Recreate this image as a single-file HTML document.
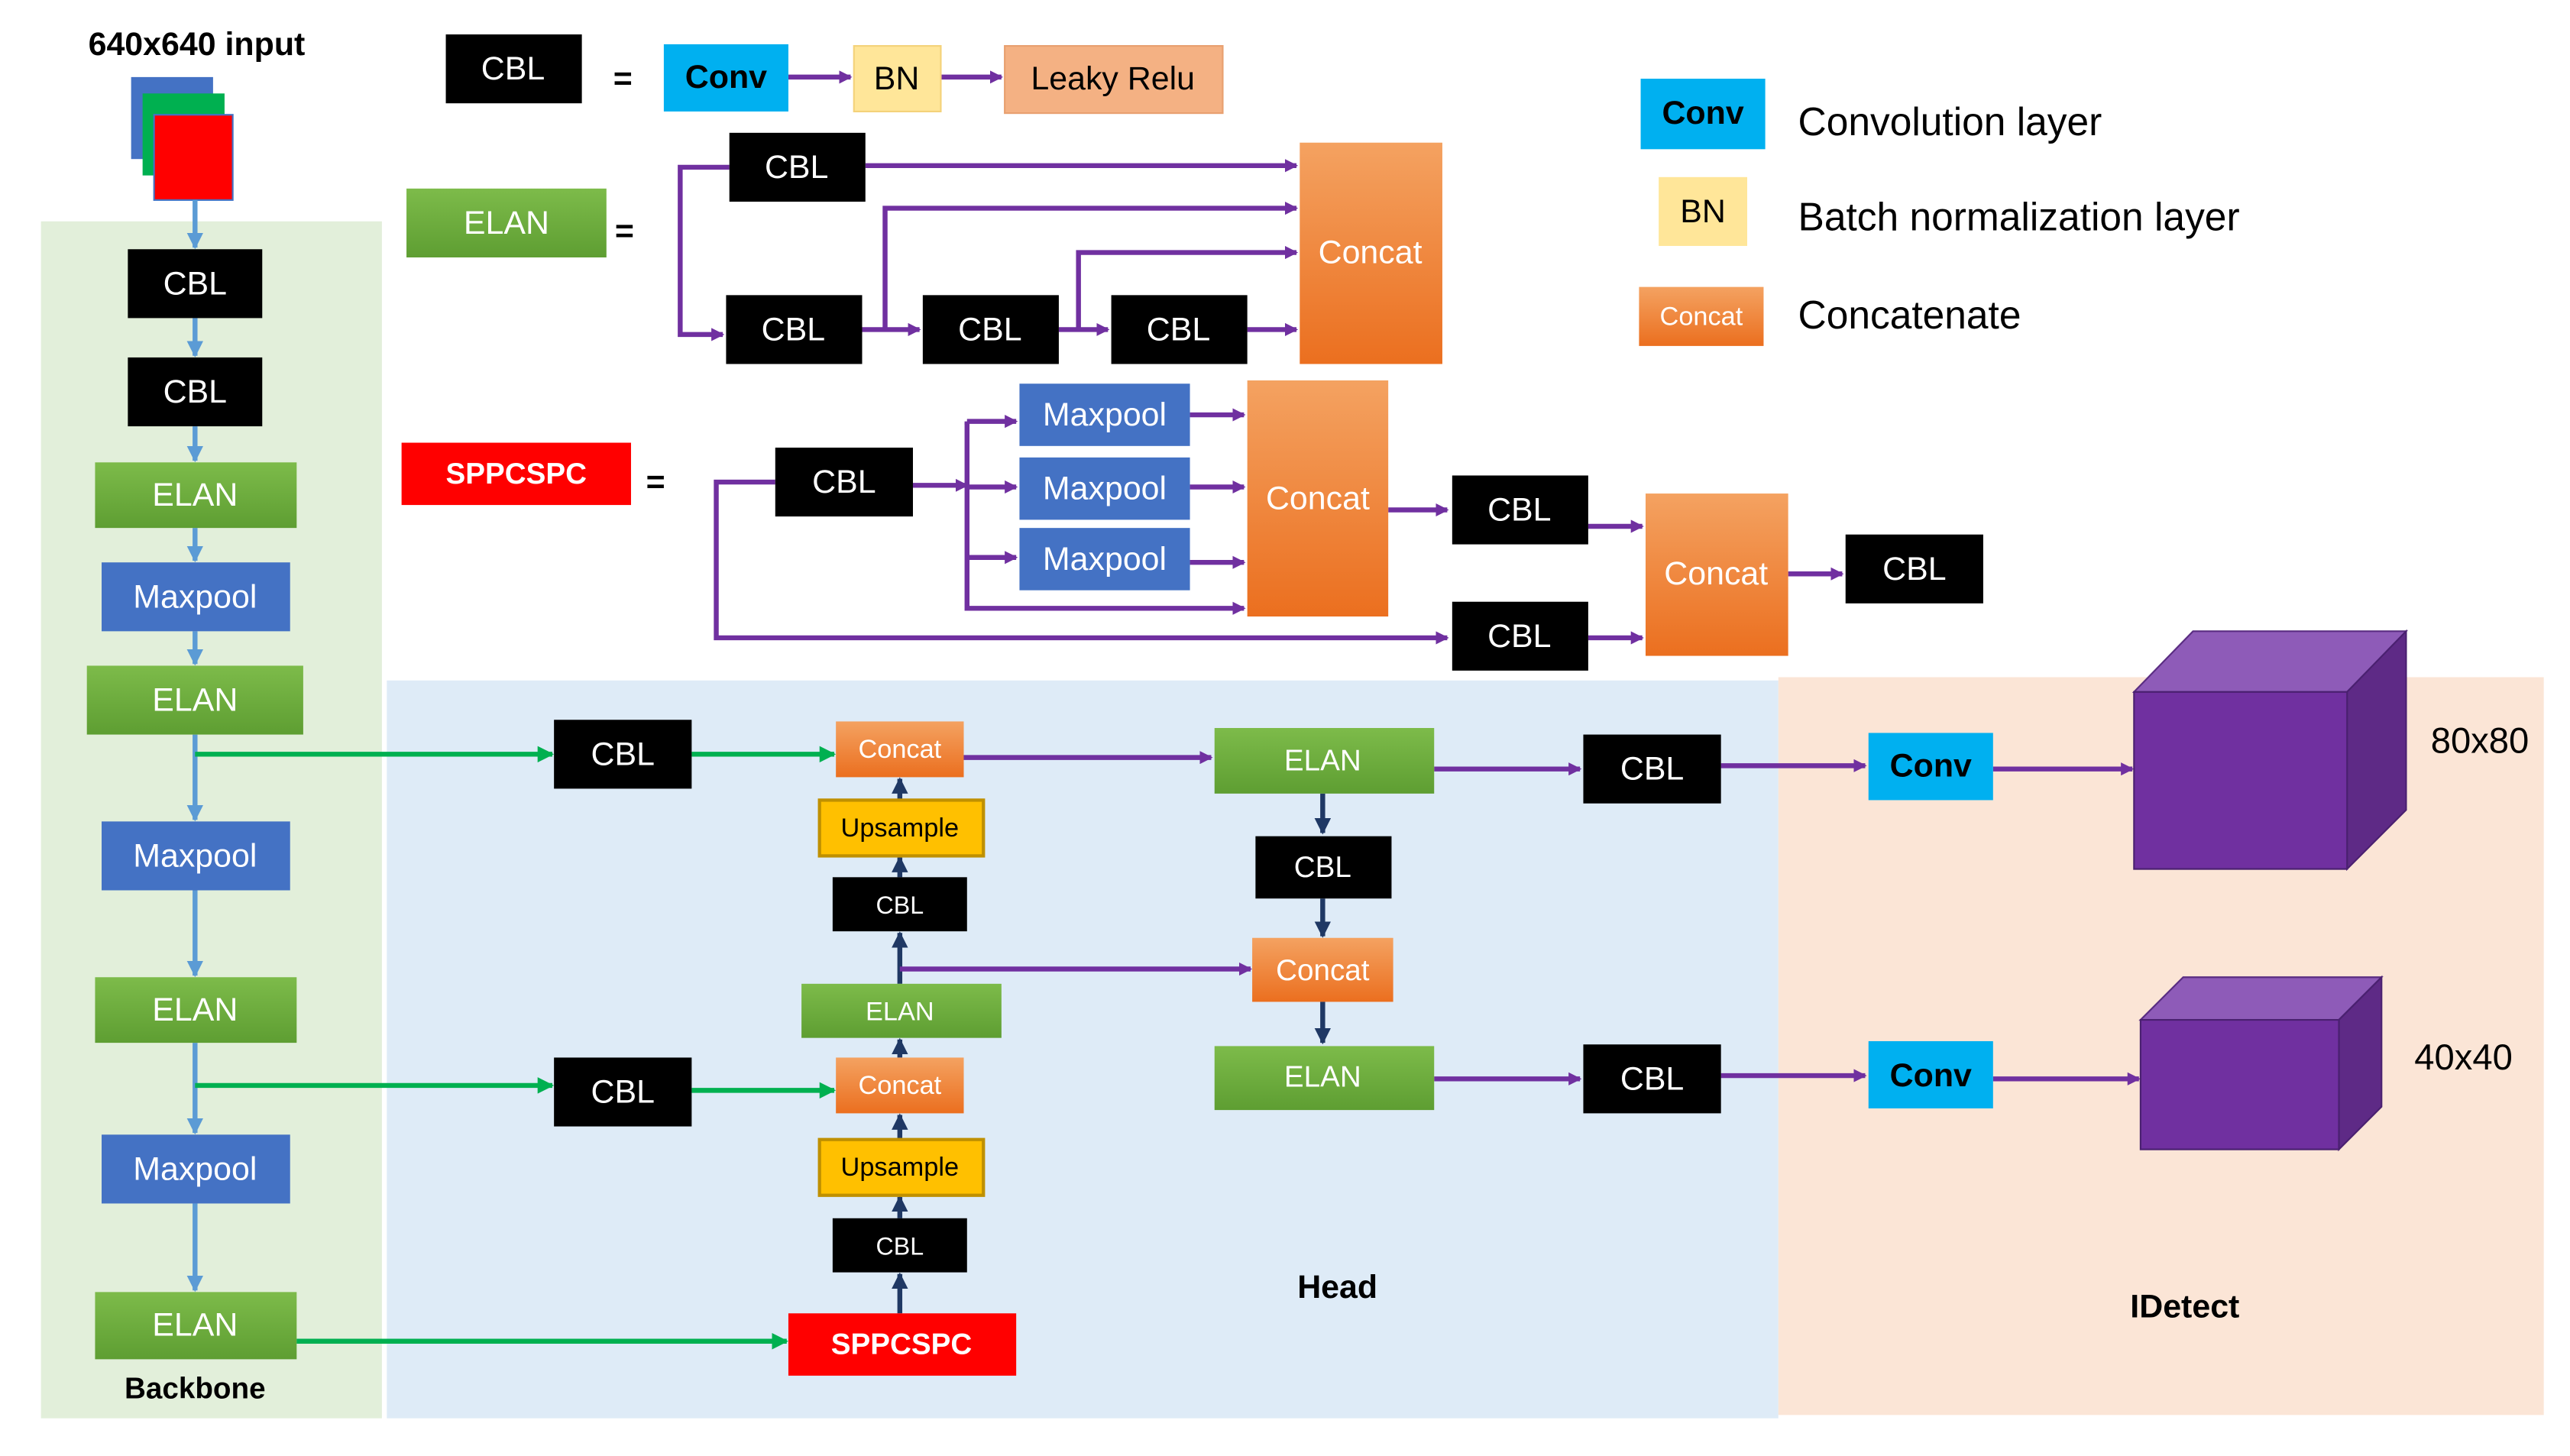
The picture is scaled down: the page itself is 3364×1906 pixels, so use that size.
<!DOCTYPE html>
<html><head><meta charset="utf-8"><style>html,body{margin:0;padding:0;background:#fff}svg{display:block}</style></head><body>
<svg xmlns="http://www.w3.org/2000/svg" width="3364" height="1906" viewBox="0 0 1568 888" preserveAspectRatio="none" font-family="'Liberation Sans', sans-serif">
<defs>
<linearGradient id="og" x1="0" y1="0" x2="0" y2="1"><stop offset="0" stop-color="#f4a261"/><stop offset="1" stop-color="#eb6f1f"/></linearGradient>
<linearGradient id="gg" x1="0" y1="0" x2="0" y2="1"><stop offset="0" stop-color="#7dbb4a"/><stop offset="1" stop-color="#5e9e32"/></linearGradient>
<marker id="ap" markerWidth="8" markerHeight="8" refX="7" refY="4" orient="auto" markerUnits="userSpaceOnUse"><path d="M0,0 L8,4 L0,8z" fill="#7030a0"/></marker>
<marker id="ab" markerWidth="10" markerHeight="10" refX="9" refY="5" orient="auto" markerUnits="userSpaceOnUse"><path d="M0,0 L10,5 L0,10z" fill="#5b9bd5"/></marker>
<marker id="ag" markerWidth="10" markerHeight="10" refX="9" refY="5" orient="auto" markerUnits="userSpaceOnUse"><path d="M0,0 L10,5 L0,10z" fill="#00b050"/></marker>
<marker id="ad" markerWidth="10" markerHeight="10" refX="9" refY="5" orient="auto" markerUnits="userSpaceOnUse"><path d="M0,0 L10,5 L0,10z" fill="#1f3864"/></marker>
</defs>
<rect x="25" y="135" width="208" height="730" fill="#e2efda"/>
<rect x="236" y="415" width="849" height="450" fill="#deebf7"/>
<rect x="1085" y="413" width="467" height="450" fill="#fbe5d6"/>

<g font-size="20" text-anchor="middle" dominant-baseline="central">
<!-- input -->
<text x="120" y="27" font-weight="bold">640x640 input</text>
<rect x="80" y="47" width="50" height="50" fill="#4472c4"/>
<rect x="87" y="57" width="50" height="50" fill="#00b050"/>
<rect x="94" y="70" width="48" height="52" fill="#ff0000" stroke="#4472c4"/>

<!-- backbone arrows -->
<g stroke="#5b9bd5" stroke-width="3" marker-end="url(#ab)">
<line x1="119" y1="122" x2="119" y2="151"/><line x1="119" y1="194" x2="119" y2="217"/><line x1="119" y1="260" x2="119" y2="281"/>
<line x1="119" y1="322" x2="119" y2="342"/><line x1="119" y1="385" x2="119" y2="405"/><line x1="119" y1="448" x2="119" y2="500"/>
<line x1="119" y1="543" x2="119" y2="595"/><line x1="119" y1="636" x2="119" y2="691"/><line x1="119" y1="734" x2="119" y2="787"/>
</g>
<rect x="78" y="152" width="82" height="42" fill="#000"/><text x="119" y="173" fill="#fff">CBL</text>
<rect x="78" y="218" width="82" height="42" fill="#000"/><text x="119" y="239" fill="#fff">CBL</text>
<rect x="58" y="282" width="123" height="40" fill="url(#gg)"/><text x="119" y="302" fill="#fff">ELAN</text>
<rect x="62" y="343" width="115" height="42" fill="#4472c4"/><text x="119" y="364" fill="#fff">Maxpool</text>
<rect x="53" y="406" width="132" height="42" fill="url(#gg)"/><text x="119" y="427" fill="#fff">ELAN</text>
<rect x="62" y="501" width="115" height="42" fill="#4472c4"/><text x="119" y="522" fill="#fff">Maxpool</text>
<rect x="58" y="596" width="123" height="40" fill="url(#gg)"/><text x="119" y="616" fill="#fff">ELAN</text>
<rect x="62" y="692" width="115" height="42" fill="#4472c4"/><text x="119" y="713" fill="#fff">Maxpool</text>
<rect x="58" y="788" width="123" height="41" fill="url(#gg)"/><text x="119" y="808" fill="#fff">ELAN</text>
<text x="119" y="847" font-weight="bold" font-size="18">Backbone</text>

<!-- green lines -->
<g stroke="#00b050" stroke-width="3" marker-end="url(#ag)">
<line x1="119" y1="460" x2="337" y2="460"/><line x1="422" y1="460" x2="509" y2="460"/>
<line x1="119" y1="662" x2="337" y2="662"/><line x1="422" y1="665" x2="509" y2="665"/>
<line x1="181" y1="818" x2="480" y2="818"/>
</g>

<!-- head -->
<g stroke="#1f3864" stroke-width="3" marker-end="url(#ad)">
<line x1="549" y1="488" x2="549" y2="475"/><line x1="549" y1="535" x2="549" y2="523"/><line x1="549" y1="600" x2="549" y2="569"/>
<line x1="549" y1="645" x2="549" y2="634"/><line x1="549" y1="695" x2="549" y2="680"/><line x1="549" y1="743" x2="549" y2="730"/>
<line x1="549" y1="801" x2="549" y2="777"/>
<line x1="807" y1="484" x2="807" y2="508"/><line x1="807" y1="548" x2="807" y2="571"/><line x1="807" y1="611" x2="807" y2="636"/>
</g>
<g stroke="#7030a0" stroke-width="3" fill="none" marker-end="url(#ap)">
<line x1="588" y1="462" x2="739" y2="462"/>
<polyline points="549,591 763,591"/>
<line x1="875" y1="469" x2="964" y2="469"/><line x1="1050" y1="467" x2="1138" y2="467"/><line x1="1216" y1="469" x2="1301" y2="469"/>
<line x1="875" y1="658" x2="964" y2="658"/><line x1="1050" y1="656" x2="1138" y2="656"/><line x1="1216" y1="658" x2="1305" y2="658"/>
</g>
<rect x="338" y="439" width="84" height="42" fill="#000"/><text x="380" y="460" fill="#fff">CBL</text>
<rect x="338" y="645" width="84" height="42" fill="#000"/><text x="380" y="666" fill="#fff">CBL</text>
<rect x="510" y="440" width="78" height="34" fill="url(#og)"/><text x="549" y="457" fill="#fff" font-size="16">Concat</text>
<rect x="500" y="488" width="100" height="34" fill="#ffc000" stroke="#bf9000" stroke-width="2"/><text x="549" y="505" font-size="16">Upsample</text>
<rect x="508" y="535" width="82" height="33" fill="#000"/><text x="549" y="552" fill="#fff" font-size="15">CBL</text>
<rect x="489" y="600" width="122" height="33" fill="url(#gg)"/><text x="549" y="617" fill="#fff" font-size="16">ELAN</text>
<rect x="510" y="645" width="78" height="34" fill="url(#og)"/><text x="549" y="662" fill="#fff" font-size="16">Concat</text>
<rect x="500" y="695" width="100" height="34" fill="#ffc000" stroke="#bf9000" stroke-width="2"/><text x="549" y="712" font-size="16">Upsample</text>
<rect x="508" y="743" width="82" height="33" fill="#000"/><text x="549" y="760" fill="#fff" font-size="15">CBL</text>
<rect x="481" y="801" width="139" height="38" fill="#ff0000"/><text x="550" y="820" fill="#fff" font-weight="bold" font-size="18">SPPCSPC</text>
<rect x="741" y="444" width="134" height="40" fill="url(#gg)"/><text x="807" y="464" fill="#fff" font-size="18">ELAN</text>
<rect x="766" y="510" width="83" height="38" fill="#000"/><text x="807" y="529" fill="#fff" font-size="18">CBL</text>
<rect x="764" y="572" width="86" height="39" fill="url(#og)"/><text x="807" y="592" fill="#fff" font-size="18">Concat</text>
<rect x="741" y="638" width="134" height="39" fill="url(#gg)"/><text x="807" y="657" fill="#fff" font-size="18">ELAN</text>
<rect x="966" y="448" width="84" height="42" fill="#000"/><text x="1008" y="469" fill="#fff">CBL</text>
<rect x="966" y="637" width="84" height="42" fill="#000"/><text x="1008" y="658" fill="#fff">CBL</text>
<text x="816" y="785" font-weight="bold">Head</text>

<!-- idetect -->
<rect x="1140" y="447" width="76" height="41" fill="#00b0f0"/><text x="1178" y="467" font-weight="bold">Conv</text>
<rect x="1140" y="635" width="76" height="41" fill="#00b0f0"/><text x="1178" y="656" font-weight="bold">Conv</text>
<polygon points="1302,422 1338,385 1468,385 1432,422" fill="#8e5bb8" stroke="#5a2d82"/>
<polygon points="1432,422 1468,385 1468,494 1432,530" fill="#5e2a86" stroke="#4a2070"/>
<rect x="1302" y="422" width="130" height="108" fill="#7030a0" stroke="#4a2070"/>
<polygon points="1306,622 1332,596 1453,596 1427,622" fill="#8e5bb8" stroke="#5a2d82"/>
<polygon points="1427,622 1453,596 1453,675 1427,701" fill="#5e2a86" stroke="#4a2070"/>
<rect x="1306" y="622" width="121" height="79" fill="#7030a0" stroke="#4a2070"/>
<text x="1513" y="452" font-size="22">80x80</text>
<text x="1503" y="645" font-size="22">40x40</text>
<text x="1333" y="797" font-weight="bold">IDetect</text>

<!-- legend top -->
<rect x="272" y="21" width="83" height="42" fill="#000"/><text x="313" y="42" fill="#fff">CBL</text>
<text x="380" y="48" font-weight="bold">=</text>
<g stroke="#7030a0" stroke-width="3" fill="none" marker-end="url(#ap)">
<line x1="481" y1="47" x2="519" y2="47"/><line x1="574" y1="47" x2="611" y2="47"/>
<line x1="528" y1="101" x2="791" y2="101"/>
<polyline points="445,102 415,102 415,204 441,204"/>
<line x1="526" y1="201" x2="561" y2="201"/>
<polyline points="540,201 540,127 791,127"/>
<line x1="646" y1="201" x2="676" y2="201"/>
<polyline points="658,201 658,154 791,154"/>
<line x1="761" y1="201" x2="791" y2="201"/>
<polyline points="473,294 437,294 437,389 883,389"/>
<line x1="557" y1="296" x2="590" y2="296"/>
<polyline points="590,258 590,371 759,371"/>
<line x1="590" y1="257" x2="620" y2="257"/><line x1="590" y1="297" x2="620" y2="297"/><line x1="590" y1="340" x2="620" y2="340"/>
<line x1="726" y1="253" x2="759" y2="253"/><line x1="726" y1="297" x2="759" y2="297"/><line x1="726" y1="343" x2="759" y2="343"/>
<line x1="847" y1="311" x2="883" y2="311"/>
<line x1="969" y1="321" x2="1002" y2="321"/><line x1="969" y1="389" x2="1002" y2="389"/>
<line x1="1091" y1="350" x2="1124" y2="350"/>
</g>
<line x1="590" y1="257" x2="590" y2="259" stroke="#7030a0" stroke-width="3"/>
<rect x="405" y="27" width="76" height="41" fill="#00b0f0"/><text x="443" y="47" font-weight="bold">Conv</text>
<rect x="521" y="28" width="53" height="40" fill="#ffe699" stroke="#f4d27a"/><text x="547" y="48">BN</text>
<rect x="613" y="28" width="133" height="41" fill="#f4b183" stroke="#e8a070"/><text x="679" y="48">Leaky Relu</text>

<rect x="248" y="115" width="122" height="42" fill="url(#gg)"/><text x="309" y="136" fill="#fff">ELAN</text>
<text x="381" y="141" font-weight="bold">=</text>
<rect x="445" y="81" width="83" height="42" fill="#000"/><text x="486" y="102" fill="#fff">CBL</text>
<rect x="443" y="180" width="83" height="42" fill="#000"/><text x="484" y="201" fill="#fff">CBL</text>
<rect x="563" y="180" width="83" height="42" fill="#000"/><text x="604" y="201" fill="#fff">CBL</text>
<rect x="678" y="180" width="83" height="42" fill="#000"/><text x="719" y="201" fill="#fff">CBL</text>
<rect x="793" y="87" width="87" height="135" fill="url(#og)"/><text x="836" y="154" fill="#fff">Concat</text>

<rect x="245" y="270" width="140" height="38" fill="#ff0000"/><text x="315" y="289" fill="#fff" font-weight="bold" font-size="18">SPPCSPC</text>
<text x="400" y="294" font-weight="bold">=</text>
<rect x="473" y="273" width="84" height="42" fill="#000"/><text x="515" y="294" fill="#fff">CBL</text>
<rect x="622" y="234" width="104" height="38" fill="#4472c4"/><text x="674" y="253" fill="#fff">Maxpool</text>
<rect x="622" y="279" width="104" height="38" fill="#4472c4"/><text x="674" y="298" fill="#fff">Maxpool</text>
<rect x="622" y="322" width="104" height="38" fill="#4472c4"/><text x="674" y="341" fill="#fff">Maxpool</text>
<rect x="761" y="232" width="86" height="144" fill="url(#og)"/><text x="804" y="304" fill="#fff">Concat</text>
<rect x="886" y="290" width="83" height="42" fill="#000"/><text x="927" y="311" fill="#fff">CBL</text>
<rect x="886" y="367" width="83" height="42" fill="#000"/><text x="927" y="388" fill="#fff">CBL</text>
<rect x="1004" y="301" width="87" height="99" fill="url(#og)"/><text x="1047" y="350" fill="#fff">Concat</text>
<rect x="1126" y="326" width="84" height="42" fill="#000"/><text x="1168" y="347" fill="#fff">CBL</text>

<!-- legend right -->
<rect x="1001" y="48" width="76" height="43" fill="#00b0f0"/><text x="1039" y="69" font-weight="bold">Conv</text>
<rect x="1012" y="108" width="54" height="42" fill="#ffe699"/><text x="1039" y="129">BN</text>
<rect x="1000" y="175" width="76" height="36" fill="url(#og)"/><text x="1038" y="193" fill="#fff" font-size="16">Concat</text>
</g>
<g font-size="24" dominant-baseline="central">
<text x="1097" y="74">Convolution layer</text>
<text x="1097" y="132">Batch normalization layer</text>
<text x="1097" y="192">Concatenate</text>
</g>
</svg>
</body></html>
